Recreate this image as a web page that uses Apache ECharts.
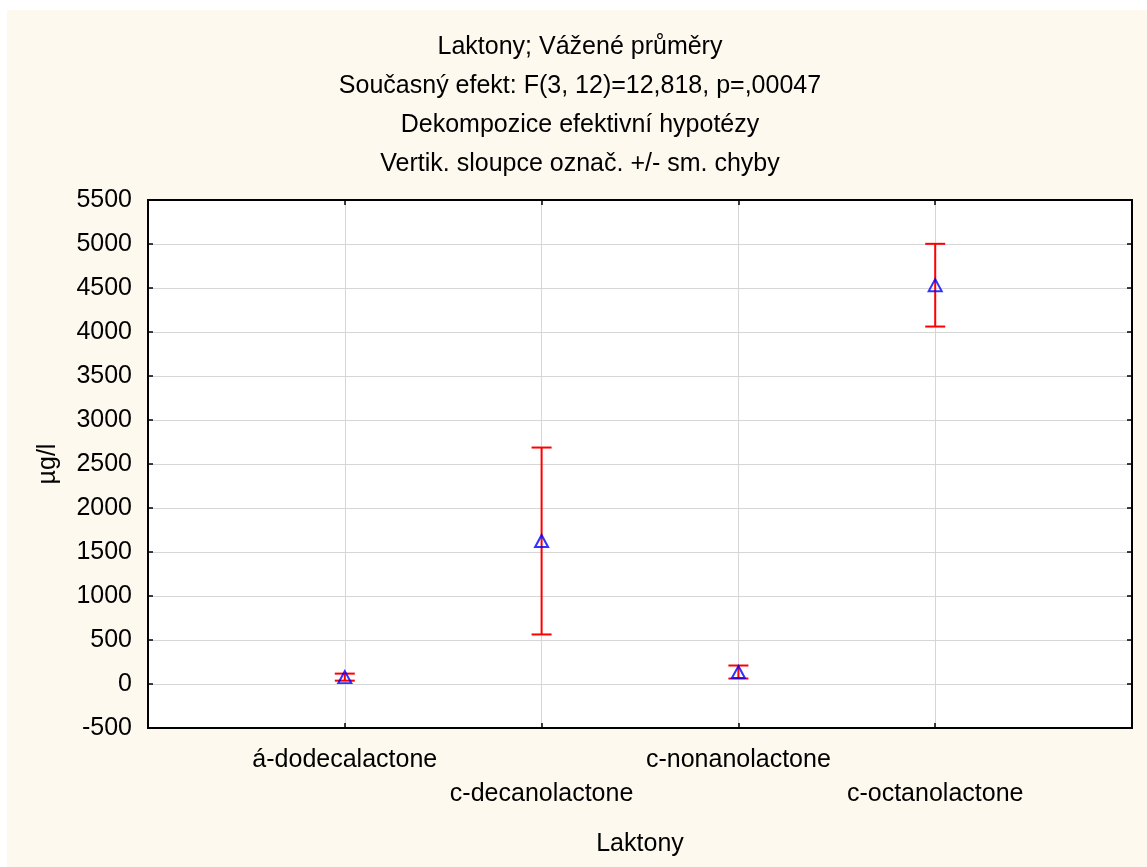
<!DOCTYPE html>
<html>
<head>
<meta charset="utf-8">
<script src="https://cdn.jsdelivr.net/npm/echarts@6/dist/echarts.min.js"></script>
<style>
  html, body { margin: 0; padding: 0; background: #ffffff; }
  #panel { position: absolute; left: 7px; top: 10px; width: 1140px; height: 857px; background: #fdf9ef; }
  #chart { position: absolute; left: 0; top: 0; width: 1147px; height: 867px; }
</style>
</head>
<body>
<div id="panel"></div>
<div id="chart"></div>
<script>
// Lactone groups and their weighted means with standard errors (µg/l)
const categories = ['á-dodecalactone', 'c-decanolactone', 'c-nonanolactone', 'c-octanolactone'];
const means = [78, 1625, 136, 4532];
const stdErrors = [40, 1062, 74, 470];
const yTicks = { min: -500, max: 5500, step: 500 };

const titleLines = [
  'Laktony; Vážené průměry',
  'Současný efekt: F(3, 12)=12,818, p=,00047',
  'Dekompozice efektivní hypotézy',
  'Vertik. sloupce označ. +/- sm. chyby'
];

const FONT = '"Liberation Sans", Arial, sans-serif';
const FS = 25;

const pointData = means.map((m, i) => [i + 1, m]);
const errorData = means.map((m, i) => [i + 1, m - stdErrors[i], m + stdErrors[i]]);

const chart = echarts.init(document.getElementById('chart'), null, { renderer: 'canvas' });

const tickStyle = { show: true, inside: true, length: 5, lineStyle: { color: '#000', width: 1.5 } };
const frameLine = { show: true, onZero: false, lineStyle: { color: '#000', width: 2 } };

chart.setOption({
  backgroundColor: 'transparent',
  animation: false,
  title: {
    text: titleLines.join('\n'),
    left: 575,
    top: 23,
    textAlign: 'center',
    textStyle: { fontFamily: FONT, fontSize: FS, fontWeight: 'normal', color: '#000', lineHeight: 39 }
  },
  grid: {
    left: 148, top: 200, right: 15, bottom: 139,
    show: true, backgroundColor: '#ffffff', borderColor: '#000', borderWidth: 2
  },
  xAxis: [{
    type: 'value', min: 0, max: 5, interval: 1,
    name: 'Laktony', nameLocation: 'middle', nameGap: 104,
    nameTextStyle: { fontFamily: FONT, fontSize: FS, color: '#000' },
    axisLine: frameLine,
    axisTick: tickStyle,
    splitLine: { show: true, lineStyle: { color: '#d6d6d6', width: 1 } },
    axisLabel: {
      margin: 15,
      fontFamily: FONT, fontSize: FS, color: '#000', lineHeight: 34,
      formatter: v => {
        const i = Math.round(v) - 1;
        if (i < 0 || i >= categories.length || Math.abs(v - Math.round(v)) > 1e-6) return '';
        return (i % 2 === 1 ? '\n' : '') + categories[i];
      }
    }
  }, {
    type: 'value', min: 0, max: 5, interval: 1, position: 'top',
    axisLine: frameLine,
    axisTick: tickStyle, axisLabel: { show: false }, splitLine: { show: false }
  }],
  yAxis: [{
    type: 'value', min: yTicks.min, max: yTicks.max, interval: yTicks.step,
    name: 'µg/l', nameLocation: 'middle', nameGap: 87, nameRotate: 90,
    nameTextStyle: { fontFamily: FONT, fontSize: FS, color: '#000' },
    axisLine: frameLine,
    axisTick: tickStyle,
    splitLine: { show: true, lineStyle: { color: '#d6d6d6', width: 1 } },
    axisLabel: { margin: 16, fontFamily: FONT, fontSize: FS, color: '#000', formatter: v => String(v) }
  }, {
    type: 'value', min: yTicks.min, max: yTicks.max, interval: yTicks.step, position: 'right',
    axisLine: frameLine,
    axisTick: tickStyle, axisLabel: { show: false }, splitLine: { show: false }
  }],
  series: [{
    type: 'custom',
    name: 'sm. chyba',
    xAxisIndex: 0, yAxisIndex: 0,
    data: errorData,
    z: 3,
    renderItem: (params, api) => {
      const x = api.value(0);
      const lo = api.coord([x, api.value(1)]);
      const hi = api.coord([x, api.value(2)]);
      const half = 10;
      const style = { stroke: '#ff0000', lineWidth: 2 };
      return {
        type: 'group',
        children: [
          { type: 'line', shape: { x1: hi[0], y1: hi[1], x2: lo[0], y2: lo[1] }, style },
          { type: 'line', shape: { x1: hi[0] - half, y1: hi[1], x2: hi[0] + half, y2: hi[1] }, style },
          { type: 'line', shape: { x1: lo[0] - half, y1: lo[1], x2: lo[0] + half, y2: lo[1] }, style }
        ]
      };
    }
  }, {
    type: 'scatter',
    name: 'průměr',
    xAxisIndex: 0, yAxisIndex: 0,
    data: pointData,
    symbol: 'triangle',
    symbolSize: [13, 12],
    z: 4,
    itemStyle: { color: 'rgba(0,0,0,0)', borderColor: '#0000ff', borderWidth: 2 }
  }]
});
</script>
</body>
</html>
